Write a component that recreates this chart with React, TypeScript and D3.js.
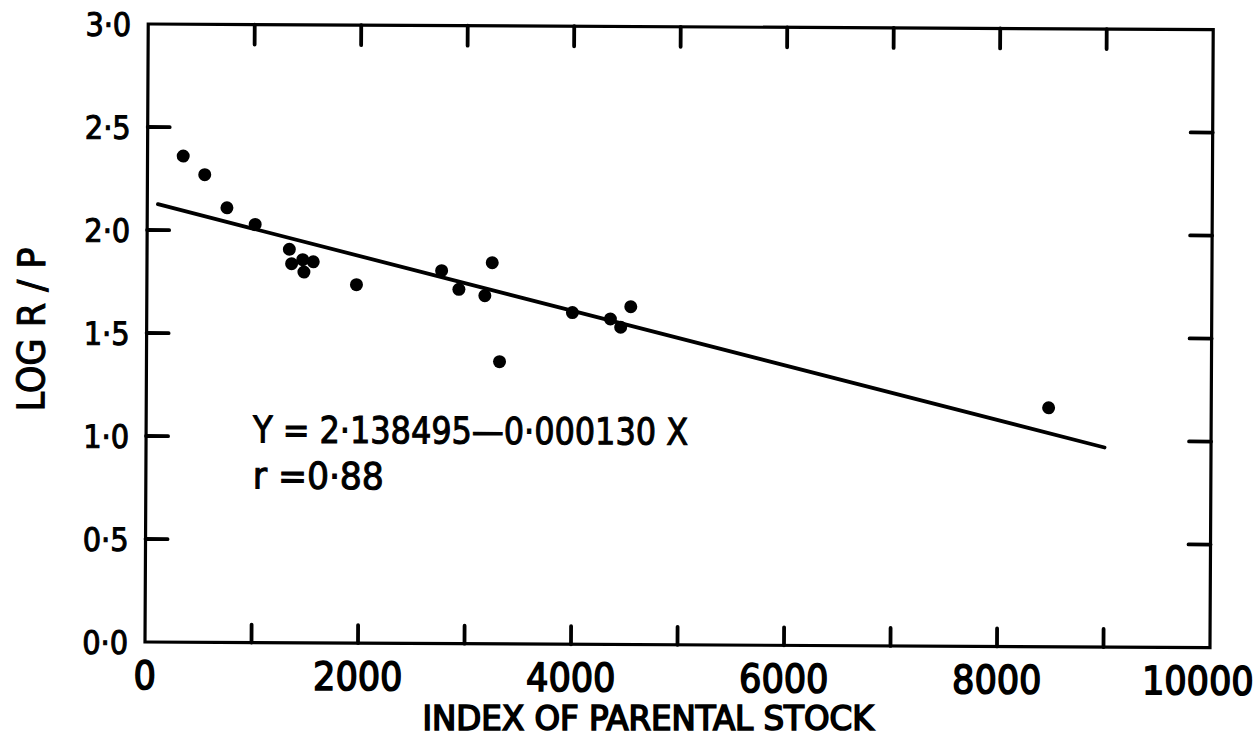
import React from 'react';
import { scaleLinear, line } from 'd3';

// values
const stockIndex = [335, 538, 748, 1014, 1336, 1358, 1462, 1561, 1474, 1968, 2767, 3242, 2930, 3174, 3315, 3997, 4354, 4451, 4545, 8473];
const logRP = [2.36, 2.27, 2.11, 2.03, 1.91, 1.84, 1.86, 1.85, 1.8, 1.74, 1.81, 1.85, 1.72, 1.69, 1.37, 1.61, 1.58, 1.54, 1.64, 1.16];

const xTicks = [0, 2000, 4000, 6000, 8000, 10000];
const xMinorTicks = [1000, 2000, 3000, 4000, 5000, 6000, 7000, 8000, 9000];
const yTicks = [0, 0.5, 1, 1.5, 2, 2.5, 3];
const yInnerTicks = [0.5, 1, 1.5, 2, 2.5];

// printed regression, drawn between these x values
const intercept = 2.138495;
const slope = -0.00013;
const fitRange = [100, 9000];

const font = "'DejaVu Sans Condensed', 'DejaVu Sans', sans-serif";
const fmt = (v: number) => v.toFixed(1).replace('.', '·');

const App = () => {
  const left = 145, right = 1210, top = 24, bottom = 642;
  const x = scaleLinear().domain([0, 10000]).range([left, right]);
  const y = scaleLinear().domain([0, 3]).range([bottom, top]);

  const fitLine = line<number>()
    .x((d) => x(d))
    .y((d) => y(intercept + slope * d));

  return (
    <svg width={1257} height={739} style={{ position: 'absolute', left: 0, top: 0, background: '#fff' }}>
      {/* the scan is tilted a little clockwise */}
      <g transform={`rotate(0.3, ${left}, ${bottom})`} fontFamily={font} fill="#000">
        <rect x={left} y={top} width={right - left} height={bottom - top} fill="none" stroke="#000" strokeWidth={3.2} />

        {xMinorTicks.map((t) => (
          <g key={'xt' + t} stroke="#000" strokeWidth={3.8} strokeLinecap="round">
            <line x1={x(t)} x2={x(t)} y1={bottom} y2={bottom - 18} />
            <line x1={x(t)} x2={x(t)} y1={top} y2={top + 20} />
          </g>
        ))}
        {yInnerTicks.map((t) => (
          <g key={'yt' + t} stroke="#000" strokeWidth={3.8} strokeLinecap="round">
            <line x1={left} x2={left + 22} y1={y(t)} y2={y(t)} />
            <line x1={right} x2={right - 22} y1={y(t)} y2={y(t)} />
          </g>
        ))}

        {yTicks.map((t) => (
          <text key={'yl' + t} x={128} y={y(t) + 12} fontSize={32} textAnchor="end" stroke="#000" strokeWidth={1}>
            {fmt(t)}
          </text>
        ))}
        {xTicks.map((t, i) => (
          <text
            key={'xl' + t}
            x={x(t) + (i === xTicks.length - 1 ? -12 : 0)}
            y={689}
            fontSize={39}
            textAnchor="middle"
            stroke="#000"
            strokeWidth={1.5}
          >
            {t}
          </text>
        ))}

        <text
          transform="translate(43,330) rotate(-90)"
          fontSize={38}
          textAnchor="middle"
          textLength={164}
          lengthAdjust="spacingAndGlyphs"
          stroke="#000"
          strokeWidth={1}
        >
          LOG R / P
        </text>

        <text x={252} y={442} fontSize={37} textLength={435} lengthAdjust="spacingAndGlyphs" stroke="#000" strokeWidth={1}>
          Y = 2·138495—0·000130 X
        </text>
        <text x={252} y={488} fontSize={37} textLength={131} lengthAdjust="spacingAndGlyphs" stroke="#000" strokeWidth={1}>
          r =0·88
        </text>

        <path d={fitLine(fitRange) || ''} fill="none" stroke="#000" strokeWidth={3.8} strokeLinecap="round" />

        {stockIndex.map((s, i) => (
          <circle key={i} cx={x(s)} cy={y(logRP[i])} r={6.5} fill="#000" />
        ))}
      </g>

      <text
        x={648}
        y={730}
        fontFamily={font}
        fontSize={34}
        textAnchor="middle"
        textLength={451}
        lengthAdjust="spacingAndGlyphs"
        stroke="#000"
        strokeWidth={1.6}
      >
        INDEX OF PARENTAL STOCK
      </text>
    </svg>
  );
};

export default App;
